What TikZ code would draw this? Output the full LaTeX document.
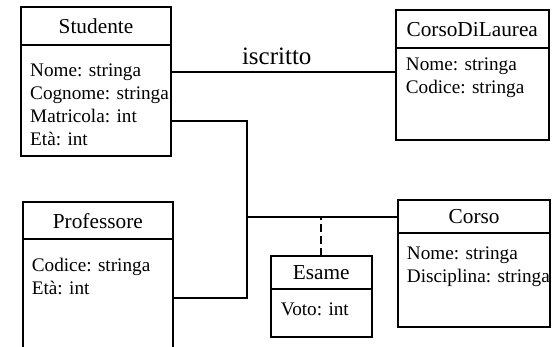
\documentclass[tikz,border=0pt]{standalone}
\usepackage{fontspec}
\setmainfont{Liberation Serif}
\usetikzlibrary{positioning,calc}
\tikzset{
  head/.style  ={draw, line width=2pt, inner sep=0pt, outer sep=0pt, align=center, font=\fontsize{21.3}{25}\selectfont},
  body/.style  ={draw, line width=2pt, inner sep=0pt, outer sep=0pt},
  attr/.style  ={inner sep=0pt, align=left, anchor=north west, font=\fontsize{19.2}{23}\selectfont},
  assoc/.style ={line width=2pt},
  assocls/.style={line width=2pt, dash pattern=on 8pt off 4pt},
  lbl/.style   ={font=\fontsize{25}{30}\selectfont, inner sep=0pt, anchor=base},
}

\begin{document}
\begin{tikzpicture}[x=1pt, y=-1pt]
  \clip (0,0) rectangle (552,347);

  % classes
  \node[head, minimum width=150pt, minimum height=37.5pt, anchor=north west] (stu) at (21,7.5) {Studente};
  \node[body, minimum width=150pt, minimum height=111pt, below=0pt of stu] (stuB) {};
  \node[attr] (stuA) at ($(stuB.north west)+(9,18.8)$) {Nome: stringa\\Cognome: stringa\\Matricola: int\\Età: int};

  \node[head, minimum width=152.5pt, minimum height=38.3pt, anchor=north west] (cdl) at (396,10) {CorsoDiLaurea};
  \node[body, minimum width=152.5pt, minimum height=91.7pt, below=0pt of cdl] (cdlB) {};
  \node[attr] (cdlA) at ($(cdlB.north west)+(9.7,9.5)$) {Nome: stringa\\Codice: stringa};

  \node[head, minimum width=150.3pt, minimum height=37pt, anchor=north west] (prof) at (22.7,202.3) {Professore};
  \node[body, minimum width=150.3pt, minimum height=125pt, below=0pt of prof] (profB) {};
  \node[attr] (profA) at ($(profB.north west)+(9,18.6)$) {Codice: stringa\\Età: int};

  \node[head, minimum width=151.7pt, minimum height=33.3pt, anchor=north west] (cor) at (398.3,200) {Corso};
  \node[body, minimum width=151.7pt, minimum height=93.4pt, below=0pt of cor] (corB) {};
  \node[attr] (corA) at ($(corB.north west)+(8.4,13.3)$) {Nome: stringa\\Disciplina: stringa};

  \node[head, minimum width=101pt, minimum height=33.6pt, anchor=north west] (esa) at (270.7,255.7) {Esame};
  \node[body, minimum width=101pt, minimum height=47.4pt, below=0pt of esa] (esaB) {};
  \node[attr] (esaA) at ($(esaB.north west)+(10,13)$) {Voto: int};

  % associations
  \draw[assoc] ($(stuB.north east)+(0,27.3)$) coordinate (isc) -- (isc -| cdlB.west)
    node[lbl, pos=0.47, yshift=8pt] {iscritto};

  \coordinate (jn) at ([xshift=-151.3pt]cor.west);
  \draw[assoc] (cor.west) -- (jn);
  \draw[assoc] ($(stuB.north east)+(0,76)$) -| (jn) |- ($(profB.north east)+(0,58.4)$);
  \draw[assocls] (esa.north) -- (esa.north |- jn);
\end{tikzpicture}
\end{document}
